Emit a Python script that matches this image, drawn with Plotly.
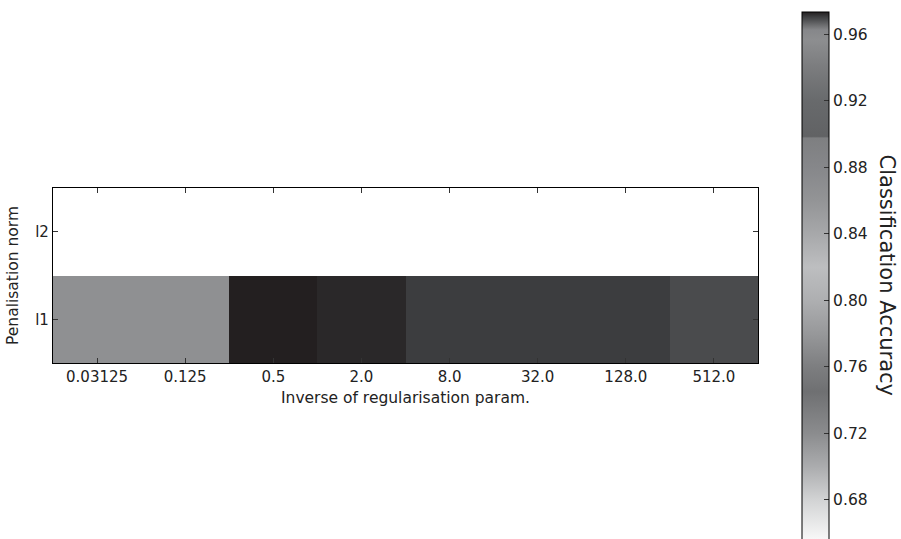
import plotly.graph_objects as go

# ---- data ----
c_labels = ["0.03125", "0.125", "0.5", "2.0", "8.0", "32.0", "128.0", "512.0"]
norms = ["l1", "l2"]
acc_l1 = [0.866, 0.866, 0.9752, 0.9725, 0.9705, 0.9705, 0.9705, 0.9690]
acc_l2 = [None, None, None, None, None, None, None, None]
zmin, zmax = 0.6559, 0.9733
cbar_ticks = [0.68, 0.72, 0.76, 0.80, 0.84, 0.88, 0.92, 0.96]

# colormap: (value, colour)
cmap_values = [0.6559, 0.68, 0.70, 0.72, 0.745, 0.76, 0.78, 0.80, 0.82, 0.84,
               0.86, 0.88, 0.8975, 0.8985, 0.92, 0.94, 0.9564, 0.9625, 0.9655,
               0.9685, 0.9703, 0.9733]
cmap_colors = ["#f8f8f8", "#d2d3d4", "#abacae", "#8b8c8e", "#6f7072", "#7d7e80",
               "#97989a", "#aeafb1", "#bdbec0", "#a7a8aa", "#939496", "#86878a",
               "#7e7f81", "#616264", "#686a6c", "#7b7c7e", "#8d8e90", "#86878a",
               "#6b6c6e", "#4e4f51", "#3e3f41", "#231f20"]
colorscale = [[(v - zmin) / (zmax - zmin), c] for v, c in zip(cmap_values, cmap_colors)]
colorscale[0][0] = 0.0
colorscale[-1][0] = 1.0

W, H = 901, 539
ml, mr, mt, mb = 50, 901 - 758, 186, 539 - 363
plot_w = W - ml - mr
plot_h = H - mt - mb

font = "DejaVu Sans"
txt = "#222222"

fig = go.Figure(go.Heatmap(
    z=[acc_l1, acc_l2],
    x=c_labels,
    y=norms,
    zmin=zmin, zmax=zmax,
    colorscale=colorscale,
    hoverongaps=False,
    colorbar=dict(
        x=(802 - ml) / plot_w, xanchor="left",
        y=(H - mb - 8) / plot_h, yanchor="top",
        lenmode="pixels", len=528,
        thicknessmode="pixels", thickness=27,
        xpad=0, ypad=0,
        outlinewidth=1, outlinecolor="black",
        tickvals=cbar_ticks,
        ticktext=[f"{t:.2f}" for t in cbar_ticks],
        ticks="inside", ticklen=5, tickcolor="#333333",
        tickfont=dict(family=font, size=15.5, color=txt),
    ),
))

axis_common = dict(
    showline=True, linecolor="black", linewidth=1.2, mirror="ticks",
    ticks="inside", ticklen=5, tickcolor="#333333",
    showgrid=False, zeroline=False,
    tickfont=dict(family=font, size=15, color=txt),
)

fig.update_layout(
    width=W, height=H,
    margin=dict(l=ml, r=mr, t=mt, b=mb),
    paper_bgcolor="white", plot_bgcolor="white",
    xaxis=dict(**axis_common, type="category",
               title=dict(text="Inverse of regularisation param.", standoff=7,
                          font=dict(family=font, size=15.5, color=txt))),
    yaxis=dict(**axis_common, type="category",
               title=dict(text="Penalisation norm", standoff=12,
                          font=dict(family=font, size=15.5, color=txt))),
    annotations=[dict(
        text="Classification Accuracy", textangle=90,
        xref="paper", yref="paper",
        x=(888 - ml) / plot_w, xanchor="center",
        y=(H - mb - 275) / plot_h, yanchor="middle",
        showarrow=False,
        font=dict(family=font, size=21, color=txt),
    )],
)

fig.write_html("out.html")
